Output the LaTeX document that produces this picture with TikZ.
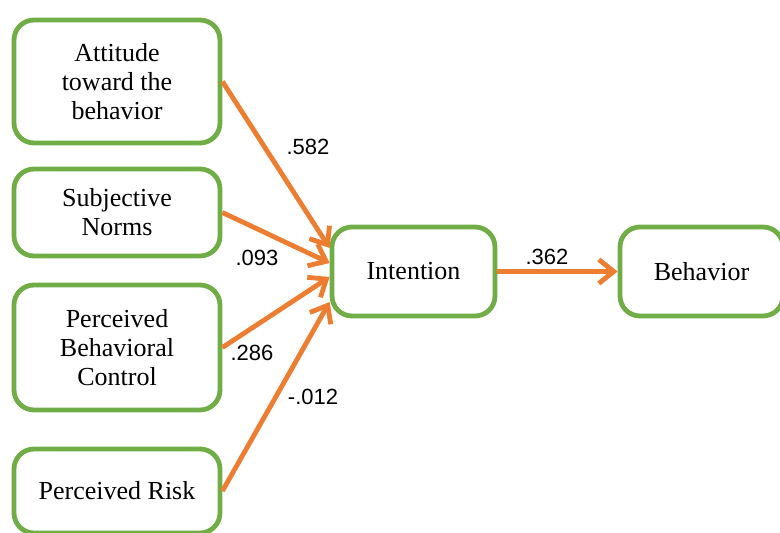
\documentclass[tikz,border=0pt]{standalone}
\usepackage{fontspec}
\setmainfont{Liberation Serif}
\newfontfamily\numfont{Liberation Sans}
\usetikzlibrary{arrows.meta}

\definecolor{boxgreen}{RGB}{112,173,71}
\definecolor{arrorange}{RGB}{237,125,49}

\tikzset{
  construct/.style={draw=boxgreen, line width=2.4pt, rounded corners=10pt,
    fill=white, align=center, font=\fontsize{13}{14.5}\selectfont,
    minimum width=103pt, inner sep=2pt},
  path arrow/.style={draw=arrorange, line width=2.4pt,
    -{Straight Barb[length=7.5pt,width=12pt,line width=2.4pt]}},
  weight/.style={font=\numfont\fontsize{11}{13}\selectfont, inner sep=0pt}
}

\begin{document}
\begin{tikzpicture}[x=0.5pt,y=-0.5pt]
\useasboundingbox (0,0) rectangle (780,533);

\node[construct, minimum height=61.5pt] (att) at (117,81.5) {Attitude\\toward the\\behavior};
\node[construct, minimum height=43.5pt] (sub) at (117,212.5) {Subjective\\Norms};
\node[construct, minimum height=62.5pt] (pbc) at (117,347.5) {Perceived\\Behavioral\\Control};
\node[construct, minimum height=42pt] (risk) at (117,491) {Perceived Risk};

\node[construct, minimum width=81.5pt, minimum height=44.5pt] (int) at (413.5,271.5) {Intention};
\node[construct, minimum width=81.5pt, minimum height=44.5pt] (beh) at (701.5,271.5) {Behavior};

\draw[path arrow] (att.east) -- ([yshift=11.75pt]int.west);
\draw[path arrow] (sub.east) -- ([yshift=4.25pt]int.west);
\draw[path arrow] (pbc.east) -- ([yshift=-2.75pt]int.west);
\draw[path arrow] (risk.east) -- ([yshift=-15.25pt]int.west);
\draw[path arrow] (int.east) -- (beh.west);

\node[weight] (w1) at (308,147) {.582};
\node[weight] (w2) at (257,258) {.093};
\node[weight] (w3) at (252,353) {.286};
\node[weight] (w4) at (313,397) {-.012};
\node[weight] (w5) at (547,257) {.362};
\end{tikzpicture}
\end{document}
